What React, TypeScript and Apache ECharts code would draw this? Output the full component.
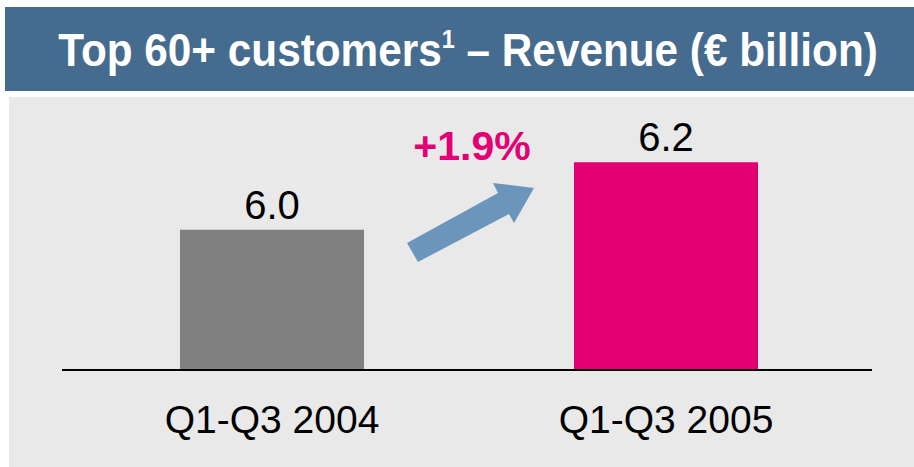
import React, { useEffect, useRef } from "react";
import * as echarts from "echarts";

const categories = ["Q1-Q3 2004", "Q1-Q3 2005"];
const revenue = [6.0, 6.2];
const barColors = ["#808080", "#E20074"];
const growthLabel = "+1.9%";
const titleMain = "Top 60+ customers";
const titleSup = "1";
const titleRest = " – Revenue (€ billion)";

const FONT = "'Liberation Sans', Arial, sans-serif";

export default function App() {
  const ref = useRef<HTMLDivElement>(null);
  useEffect(() => {
    document.body.style.margin = "0";
    const chart = echarts.init(ref.current!, undefined, { renderer: "svg" });
    chart.setOption({
      animation: false,
      backgroundColor: "#ffffff",
      graphic: [
        { type: "rect", shape: { x: 5, y: 7, width: 909, height: 84 }, style: { fill: "#456B8E" }, z: 0 },
        { type: "rect", shape: { x: 9, y: 97, width: 905, height: 370 }, style: { fill: "#E9E9E9" }, z: 0 },
        {
          type: "text",
          x: 468,
          y: 50,
          scaleX: 0.9,
          z: 10,
          style: {
            text: `{m|${titleMain}}{s|${titleSup}}{m|${titleRest}}`,
            align: "center",
            verticalAlign: "middle",
            rich: {
              m: { fontFamily: FONT, fontSize: 47, fontWeight: "bold", fill: "#ffffff" },
              s: { fontFamily: FONT, fontSize: 26, fontWeight: "bold", fill: "#ffffff", verticalAlign: "top", padding: [0, 0, 22, 0] },
            },
          },
        },
        {
          type: "text",
          x: 472,
          y: 146,
          z: 10,
          style: {
            text: growthLabel,
            align: "center",
            verticalAlign: "middle",
            fontFamily: FONT,
            fontSize: 41,
            fontWeight: "bold",
            fill: "#E20074",
          },
        },
        {
          type: "polygon",
          z: 10,
          shape: {
            points: [
              [407, 243], [498, 193], [493, 183], [534, 188], [514, 223], [509, 214], [418, 262],
            ],
          },
          style: { fill: "#6B95BB" },
        },
        {
          type: "line",
          z: 10,
          shape: { x1: 62, y1: 370, x2: 872, y2: 370 },
          style: { stroke: "#000000", lineWidth: 2 },
        },
      ],
      grid: { left: 75, right: 51, top: 61, bottom: 97 },
      xAxis: {
        type: "category",
        data: categories,
        axisLine: { show: false },
        axisTick: { show: false },
        axisLabel: { fontFamily: FONT, fontSize: 39, color: "#000000", margin: 30 },
      },
      yAxis: {
        type: "value",
        min: 5.585,
        max: 6.5,
        show: false,
        splitLine: { show: false },
      },
      series: [
        {
          type: "bar",
          barWidth: 184,
          data: revenue.map((v, i) => ({ value: v, itemStyle: { color: barColors[i] } })),
          label: {
            show: true,
            position: "top",
            distance: 5,
            fontFamily: FONT,
            fontSize: 40,
            color: "#000000",
            formatter: (p: any) => Number(p.value).toFixed(1),
          },
        },
      ],
    });
    return () => chart.dispose();
  }, []);
  return <div ref={ref} style={{ position: "fixed", left: 0, top: 0, width: 914, height: 467 }} />;
}
